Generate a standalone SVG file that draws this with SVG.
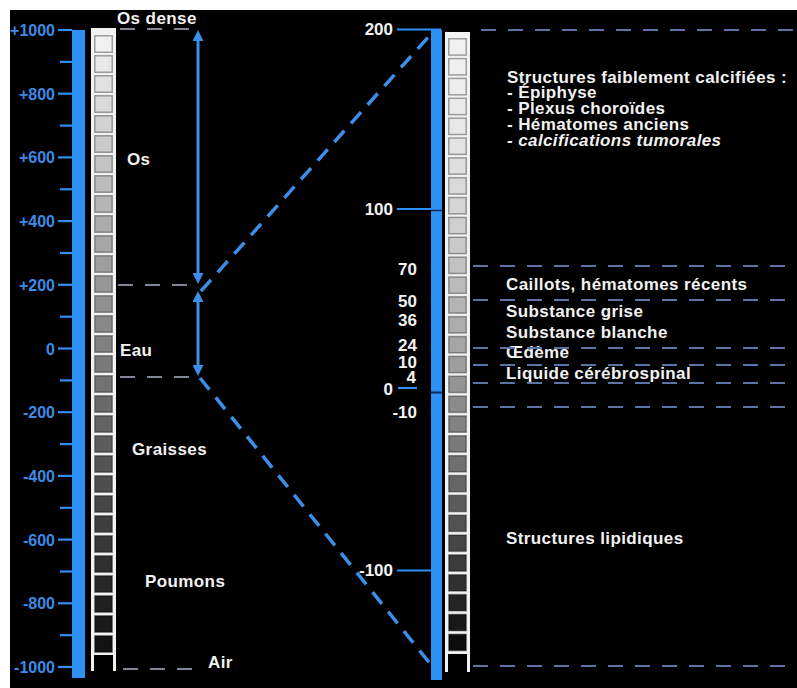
<svg xmlns="http://www.w3.org/2000/svg" width="797" height="688" viewBox="0 0 797 688">
<style>
.t{font-family:"Liberation Sans",Arial,sans-serif;font-weight:bold;fill:#f2f2f2;font-size:17px;letter-spacing:0.4px}
.b{font-family:"Liberation Sans",Arial,sans-serif;font-weight:bold;fill:#3d8be6;font-size:16px}
.n{font-family:"Liberation Sans",Arial,sans-serif;font-weight:bold;fill:#f2f2f2;font-size:17px}
.tk{stroke:#2e8ff5;stroke-width:2.2}
.bar{fill:#2e8ff5}
.c{stroke:rgba(0,0,0,0.35);stroke-width:1.5}
.rail{stroke:#f2f2f2;stroke-width:3}
.dl{stroke:#7f8796;stroke-width:2;stroke-dasharray:15 12;fill:none}
.dr{stroke:#5b74a6;stroke-width:2;stroke-dasharray:15 12;fill:none}
.arr{stroke:#3a8fe8;stroke-width:3;fill:none}
.diag{stroke:#3d8ee8;stroke-width:3.5;stroke-dasharray:15 10;fill:none}
</style>
<defs>
<marker id="ah" viewBox="0 0 10 10" refX="0" refY="5" markerWidth="11" markerHeight="11" markerUnits="userSpaceOnUse" orient="auto-start-reverse">
<path d="M0,0 L10,5 L0,10 z" fill="#3a8fe8"/>
</marker>
</defs>
<rect x="0" y="0" width="797" height="688" fill="#ffffff"/>
<rect x="10" y="10" width="787" height="678" fill="#000000"/>

<g id="left-scale">
<rect class="bar" x="72" y="30" width="13" height="648"/>
<g class="tk">
<line x1="58" y1="30" x2="72" y2="30"/><line x1="60" y1="61.9" x2="72" y2="61.9"/>
<line x1="58" y1="93.7" x2="72" y2="93.7"/><line x1="60" y1="125.6" x2="72" y2="125.6"/>
<line x1="58" y1="157.4" x2="72" y2="157.4"/><line x1="60" y1="189.3" x2="72" y2="189.3"/>
<line x1="58" y1="221.1" x2="72" y2="221.1"/><line x1="60" y1="253" x2="72" y2="253"/>
<line x1="58" y1="284.8" x2="72" y2="284.8"/><line x1="60" y1="316.7" x2="72" y2="316.7"/>
<line x1="58" y1="348.5" x2="72" y2="348.5"/><line x1="60" y1="380.4" x2="72" y2="380.4"/>
<line x1="58" y1="412.2" x2="72" y2="412.2"/><line x1="60" y1="444.1" x2="72" y2="444.1"/>
<line x1="58" y1="475.9" x2="72" y2="475.9"/><line x1="60" y1="507.8" x2="72" y2="507.8"/>
<line x1="58" y1="539.6" x2="72" y2="539.6"/><line x1="60" y1="571.5" x2="72" y2="571.5"/>
<line x1="58" y1="603.3" x2="72" y2="603.3"/><line x1="60" y1="635.2" x2="72" y2="635.2"/>
<line x1="58" y1="667" x2="72" y2="667"/>
</g>
<g class="b" text-anchor="end">
<text x="55" y="36">+1000</text>
<text x="55" y="99.7">+800</text>
<text x="55" y="163.4">+600</text>
<text x="55" y="227.1">+400</text>
<text x="55" y="290.8">+200</text>
<text x="55" y="354.5">0</text>
<text x="55" y="418.2">-200</text>
<text x="55" y="481.9">-400</text>
<text x="55" y="545.6">-600</text>
<text x="55" y="609.3">-800</text>
<text x="55" y="673">-1000</text>
</g>
</g>

<g id="left-column">
<rect x="91" y="28" width="25" height="627" fill="#f2f2f2"/>
<line class="rail" x1="92.5" y1="654" x2="92.5" y2="671"/>
<line class="rail" x1="114.5" y1="654" x2="114.5" y2="671"/>
<g class="c">
<rect x="94.75" y="35.75" width="17.5" height="16.5" fill="#f0f0f0"/>
<rect x="94.75" y="55.75" width="17.5" height="16.5" fill="#e9e9e9"/>
<rect x="94.75" y="75.75" width="17.5" height="16.5" fill="#e1e1e1"/>
<rect x="94.75" y="95.75" width="17.5" height="16.5" fill="#dadada"/>
<rect x="94.75" y="115.75" width="17.5" height="16.5" fill="#d2d2d2"/>
<rect x="94.75" y="135.75" width="17.5" height="16.5" fill="#cbcbcb"/>
<rect x="94.75" y="155.75" width="17.5" height="16.5" fill="#c3c3c3"/>
<rect x="94.75" y="175.75" width="17.5" height="16.5" fill="#bcbcbc"/>
<rect x="94.75" y="195.75" width="17.5" height="16.5" fill="#b5b5b5"/>
<rect x="94.75" y="215.75" width="17.5" height="16.5" fill="#adadad"/>
<rect x="94.75" y="235.75" width="17.5" height="16.5" fill="#a6a6a6"/>
<rect x="94.75" y="255.75" width="17.5" height="16.5" fill="#9e9e9e"/>
<rect x="94.75" y="275.75" width="17.5" height="16.5" fill="#979797"/>
<rect x="94.75" y="295.75" width="17.5" height="16.5" fill="#909090"/>
<rect x="94.75" y="315.75" width="17.5" height="16.5" fill="#888888"/>
<rect x="94.75" y="335.75" width="17.5" height="16.5" fill="#818181"/>
<rect x="94.75" y="355.75" width="17.5" height="16.5" fill="#797979"/>
<rect x="94.75" y="375.75" width="17.5" height="16.5" fill="#727272"/>
<rect x="94.75" y="395.75" width="17.5" height="16.5" fill="#6a6a6a"/>
<rect x="94.75" y="415.75" width="17.5" height="16.5" fill="#636363"/>
<rect x="94.75" y="435.75" width="17.5" height="16.5" fill="#5c5c5c"/>
<rect x="94.75" y="455.75" width="17.5" height="16.5" fill="#545454"/>
<rect x="94.75" y="475.75" width="17.5" height="16.5" fill="#4d4d4d"/>
<rect x="94.75" y="495.75" width="17.5" height="16.5" fill="#454545"/>
<rect x="94.75" y="515.75" width="17.5" height="16.5" fill="#3e3e3e"/>
<rect x="94.75" y="535.75" width="17.5" height="16.5" fill="#373737"/>
<rect x="94.75" y="555.75" width="17.5" height="16.5" fill="#2f2f2f"/>
<rect x="94.75" y="575.75" width="17.5" height="16.5" fill="#282828"/>
<rect x="94.75" y="595.75" width="17.5" height="16.5" fill="#202020"/>
<rect x="94.75" y="615.75" width="17.5" height="16.5" fill="#191919"/>
<rect x="94.75" y="635.75" width="17.5" height="16.5" fill="#121212"/>
</g>
</g>

<g id="left-labels" class="t">
<text x="117" y="24">Os dense</text>
<text x="127" y="165">Os</text>
<text x="120" y="356">Eau</text>
<text x="132" y="455">Graisses</text>
<text x="145" y="587">Poumons</text>
<text x="208" y="668">Air</text>
</g>

<g id="right-scale">
<rect class="bar" x="431" y="30" width="11" height="650"/>
<line x1="431" y1="210.5" x2="442" y2="210.5" stroke="#0b2a55" stroke-width="1.5"/>
<line x1="431" y1="392.5" x2="442" y2="392.5" stroke="#0b2a55" stroke-width="2"/>
<g class="tk">
<line x1="397" y1="29.5" x2="441" y2="29.5"/>
<line x1="397" y1="209" x2="431" y2="209"/>
<line x1="398" y1="388" x2="417" y2="388"/>
<line x1="397" y1="570.5" x2="442" y2="570.5"/>
</g>
<g class="n" text-anchor="end">
<text x="393" y="35">200</text>
<text x="393" y="215">100</text>
<text x="417" y="275">70</text>
<text x="417" y="307">50</text>
<text x="417" y="326">36</text>
<text x="417" y="351">24</text>
<text x="417" y="368">10</text>
<text x="416" y="383">4</text>
<text x="393" y="395">0</text>
<text x="417" y="418">-10</text>
<text x="393" y="576">-100</text>
</g>
</g>

<g id="right-column">
<rect x="445" y="32" width="25" height="622" fill="#f2f2f2"/>
<line class="rail" x1="446.5" y1="653" x2="446.5" y2="672"/>
<line class="rail" x1="468.5" y1="653" x2="468.5" y2="672"/>
<g class="c">
<rect x="448.75" y="38.75" width="17.5" height="16.35" fill="#f0f0f0"/>
<rect x="448.75" y="58.6" width="17.5" height="16.35" fill="#efefef"/>
<rect x="448.75" y="78.45" width="17.5" height="16.35" fill="#ededed"/>
<rect x="448.75" y="98.3" width="17.5" height="16.35" fill="#eaeaea"/>
<rect x="448.75" y="118.15" width="17.5" height="16.35" fill="#e7e7e7"/>
<rect x="448.75" y="138" width="17.5" height="16.35" fill="#e3e3e3"/>
<rect x="448.75" y="157.85" width="17.5" height="16.35" fill="#dfdfdf"/>
<rect x="448.75" y="177.7" width="17.5" height="16.35" fill="#dadada"/>
<rect x="448.75" y="197.55" width="17.5" height="16.35" fill="#d5d5d5"/>
<rect x="448.75" y="217.4" width="17.5" height="16.35" fill="#cfcfcf"/>
<rect x="448.75" y="237.25" width="17.5" height="16.35" fill="#c9c9c9"/>
<rect x="448.75" y="257.1" width="17.5" height="16.35" fill="#c2c2c2"/>
<rect x="448.75" y="276.95" width="17.5" height="16.35" fill="#bbbbbb"/>
<rect x="448.75" y="296.8" width="17.5" height="16.35" fill="#b4b4b4"/>
<rect x="448.75" y="316.65" width="17.5" height="16.35" fill="#adadad"/>
<rect x="448.75" y="336.5" width="17.5" height="16.35" fill="#a5a5a5"/>
<rect x="448.75" y="356.35" width="17.5" height="16.35" fill="#9d9d9d"/>
<rect x="448.75" y="376.2" width="17.5" height="16.35" fill="#949494"/>
<rect x="448.75" y="396.05" width="17.5" height="16.35" fill="#8b8b8b"/>
<rect x="448.75" y="415.9" width="17.5" height="16.35" fill="#828282"/>
<rect x="448.75" y="435.75" width="17.5" height="16.35" fill="#797979"/>
<rect x="448.75" y="455.6" width="17.5" height="16.35" fill="#6f6f6f"/>
<rect x="448.75" y="475.45" width="17.5" height="16.35" fill="#656565"/>
<rect x="448.75" y="495.3" width="17.5" height="16.35" fill="#5b5b5b"/>
<rect x="448.75" y="515.15" width="17.5" height="16.35" fill="#515151"/>
<rect x="448.75" y="535" width="17.5" height="16.35" fill="#464646"/>
<rect x="448.75" y="554.85" width="17.5" height="16.35" fill="#3b3b3b"/>
<rect x="448.75" y="574.7" width="17.5" height="16.35" fill="#303030"/>
<rect x="448.75" y="594.55" width="17.5" height="16.35" fill="#242424"/>
<rect x="448.75" y="614.4" width="17.5" height="16.35" fill="#181818"/>
<rect x="448.75" y="634.25" width="17.5" height="16.35" fill="#0c0c0c"/>
</g>
</g>

<g id="right-labels" class="t">
<text x="507" y="83">Structures faiblement calcifiées :</text>
<text x="507" y="98">- Épiphyse</text>
<text x="507" y="114">- Plexus choroïdes</text>
<text x="507" y="130">- Hématomes anciens</text>
<text x="507" y="146" font-style="italic">- calcifications tumorales</text>
<text x="506" y="290">Caillots, hématomes récents</text>
<text x="506" y="317">Substance grise</text>
<text x="506" y="338">Substance blanche</text>
<text x="506" y="358">Œdème</text>
<text x="506" y="379">Liquide cérébrospinal</text>
<text x="506" y="544">Structures lipidiques</text>
</g>

<g id="connectors">
<g id="ref-lines-left" class="dl">
<line x1="120" y1="29" x2="198" y2="29"/>
<line x1="118" y1="285" x2="195" y2="285"/>
<line x1="120" y1="377" x2="195" y2="377"/>
<line x1="123" y1="669" x2="196" y2="669"/>
</g>
<g id="ref-lines-right" class="dr">
<line x1="481" y1="30" x2="797" y2="30"/>
<line x1="473" y1="266" x2="797" y2="266"/>
<line x1="473" y1="300" x2="797" y2="300"/>
<line x1="473" y1="348" x2="797" y2="348"/>
<line x1="473" y1="365" x2="797" y2="365"/>
<line x1="473" y1="383" x2="797" y2="383"/>
<line x1="473" y1="407" x2="797" y2="407"/>
<line x1="473" y1="666" x2="797" y2="666"/>
</g>
<line class="diag" x1="201" y1="291" x2="431" y2="34"/>
<line class="diag" x1="200" y1="378" x2="432" y2="666"/>
<line class="arr" x1="198" y1="41" x2="198" y2="273" marker-start="url(#ah)" marker-end="url(#ah)"/>
<line class="arr" x1="198" y1="302" x2="198" y2="365" marker-start="url(#ah)" marker-end="url(#ah)"/>
</g>
</svg>
